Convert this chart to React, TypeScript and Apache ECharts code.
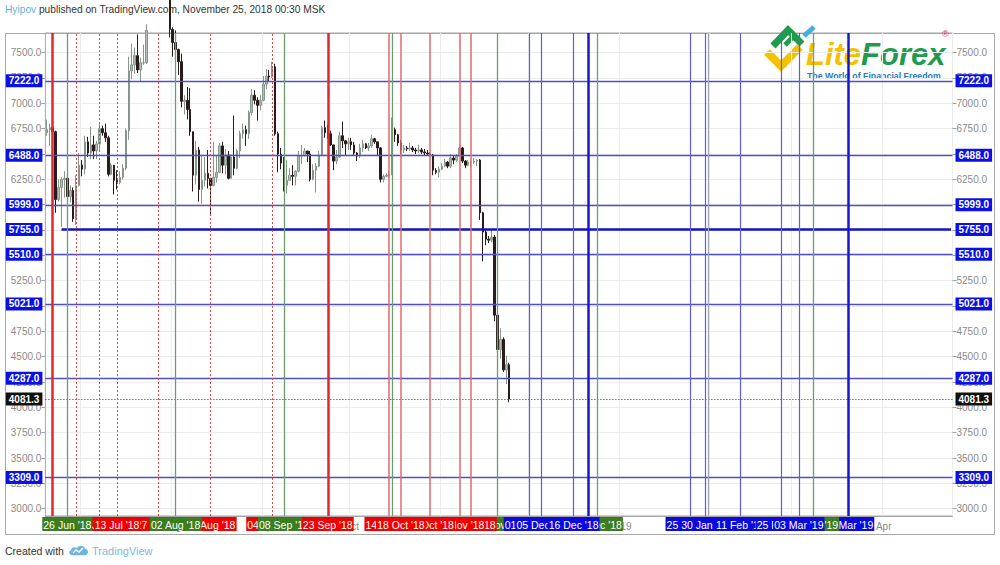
import React, { useEffect, useRef } from "react";
import * as echarts from "echarts";

// ---------- data ----------
const firstDay = [2018, 5, 19]; // 19 Jun 2018 (month index 5)
const dayCount = 310; // categories up to late Apr 2019

// daily candles 19 Jun 2018 .. 24 Nov 2018
const opens = [
  6710, 6740, 6760, 6720, 6050, 6170, 6250, 6260, 6080, 6140, 5860, 6190,
  6390, 6350, 6620, 6510, 6590, 6530, 6600, 6750, 6710, 6660, 6300, 6390, 6240, 6220, 6270, 6360, 6730, 7320, 7380, 7470, 7330, 7400, 7400, 7720, 8400, 8170, 7930, 8180, 8220, 8210, 8170,
  7730, 7600, 7530, 7410, 7020, 7030, 6940, 6720, 6290, 6540, 6150, 6240, 6310, 6260, 6190, 6270, 6320, 6580, 6390, 6490, 6260, 6470, 6360, 6530, 6700, 6740, 6700, 6910, 7080, 7030, 6980,
  7030, 7190, 7270, 7260, 7360, 6700, 6500, 6410, 6190, 6240, 6290, 6280, 6330, 6480, 6480, 6530, 6500, 6250, 6340, 6380, 6490, 6760, 6710, 6700, 6590, 6430, 6470, 6680, 6630, 6600,
  6620, 6590, 6510, 6480, 6560, 6600, 6560, 6580, 6650, 6620, 6560, 6250, 6280, 6290, 6300, 6740, 6690, 6610, 6540, 6560, 6550, 6560, 6540, 6530, 6540, 6520, 6510, 6500, 6490, 6340, 6320,
  6350, 6380, 6420, 6380, 6460, 6440, 6480, 6560, 6430, 6390, 6420, 6420, 6430, 6440, 5920, 5730, 5660, 5650, 5680, 4910, 4570, 4670, 4370, 4420,
];
const closes = [
  6740, 6760, 6720, 6050, 6170, 6250, 6260, 6080, 6140, 5860, 6190, 6390,
  6350, 6620, 6510, 6590, 6530, 6600, 6750, 6710, 6660, 6300, 6390, 6240, 6220, 6270, 6360, 6730, 7320, 7380, 7470, 7330, 7400, 7400, 7720, 8400, 8170, 7930, 8180, 8220, 8210, 8170, 7730,
  7600, 7530, 7410, 7020, 7030, 6940, 6720, 6290, 6540, 6150, 6240, 6310, 6260, 6190, 6270, 6320, 6580, 6390, 6490, 6260, 6470, 6360, 6530, 6700, 6740, 6700, 6910, 7080, 7030, 6980, 7030,
  7190, 7270, 7260, 7360, 6700, 6500, 6410, 6190, 6240, 6290, 6280, 6330, 6480, 6480, 6530, 6500, 6250, 6340, 6380, 6490, 6760, 6710, 6700, 6590, 6430, 6470, 6680, 6630, 6600, 6620,
  6590, 6510, 6480, 6560, 6600, 6560, 6580, 6650, 6620, 6560, 6250, 6280, 6290, 6300, 6740, 6690, 6610, 6540, 6560, 6550, 6560, 6540, 6530, 6540, 6520, 6510, 6500, 6490, 6340, 6320, 6350,
  6380, 6420, 6380, 6460, 6440, 6480, 6560, 6430, 6390, 6420, 6420, 6430, 6440, 5920, 5730, 5660, 5650, 5680, 4910, 4570, 4670, 4370, 4420, 4081.3,
];
const lows = [
  6680, 6580, 6680, 5920, 6030, 5780, 6070, 6060, 6020, 5830, 5800, 6180,
  6280, 6300, 6470, 6450, 6450, 6450, 6520, 6680, 6620, 6280, 6290, 6100, 6150, 6200, 6250, 6340, 6640, 7240, 7290, 7300, 7220, 7380, 7390, 7700, 8060, 7860, 7800, 8080, 8120, 7860, 7650,
  7460, 7460, 7280, 6960, 6890, 6840, 6680, 6130, 6200, 6030, 6010, 6180, 6160, 5890, 6180, 6220, 6310, 6310, 6300, 6250, 6260, 6290, 6350, 6460, 6650, 6580, 6650, 6880, 6990, 6830, 6930,
  7020, 7140, 7210, 7250, 6680, 6320, 6350, 6130, 6110, 6240, 6190, 6190, 6320, 6400, 6480, 6420, 6230, 6240, 6120, 6370, 6480, 6660, 6650, 6580, 6340, 6400, 6460, 6560, 6490, 6540,
  6540, 6490, 6430, 6460, 6520, 6550, 6530, 6560, 6600, 6490, 6220, 6220, 6270, 6270, 6290, 6620, 6580, 6500, 6510, 6530, 6530, 6520, 6500, 6510, 6500, 6490, 6490, 6470, 6290, 6300, 6270,
  6340, 6370, 6360, 6360, 6400, 6420, 6470, 6410, 6360, 6380, 6370, 6400, 6380, 5850, 5440, 5600, 5620, 5630, 4850, 4320, 4480, 4350, 4230, 4050,
];
const highs = [
  6840, 6800, 6790, 6730, 6250, 6270, 6330, 6290, 6190, 6170, 6290, 6510,
  6440, 6680, 6670, 6770, 6680, 6630, 6800, 6780, 6800, 6680, 6410, 6390, 6340, 6330, 6400, 6750, 7460, 7590, 7550, 7680, 7450, 7580, 7780, 8480, 8480, 8300, 8260, 8230, 8280, 8240, 8180,
  7750, 7720, 7540, 7490, 7080, 7160, 7150, 6720, 6630, 6570, 6480, 6470, 6540, 6260, 6620, 6480, 6610, 6620, 6550, 6530, 6500, 6880, 6550, 6730, 6800, 6780, 6930, 7140, 7130, 7060, 7080,
  7270, 7340, 7330, 7410, 7390, 6720, 6560, 6470, 6440, 6360, 6390, 6340, 6530, 6590, 6560, 6530, 6530, 6400, 6410, 6530, 6780, 6830, 6790, 6730, 6590, 6540, 6720, 6820, 6640, 6660,
  6660, 6620, 6520, 6600, 6640, 6610, 6610, 6690, 6660, 6620, 6570, 6300, 6310, 6330, 6860, 6760, 6700, 6640, 6590, 6580, 6610, 6580, 6560, 6590, 6560, 6550, 6540, 6520, 6500, 6360, 6380,
  6410, 6450, 6430, 6500, 6480, 6500, 6600, 6570, 6440, 6440, 6440, 6460, 6450, 6450, 5930, 5750, 5690, 5760, 5700, 4950, 4780, 4690, 4510, 4440,
];

const yTicks = [3000, 3250, 3500, 3750, 4000, 4250, 4500, 4750, 5000, 5250, 5500, 5750, 6000, 6250, 6500, 6750, 7000, 7250, 7500];
const yMin = 2928;
const yMax = 7694;

// horizontal levels
const levelValues = [7222, 6488, 5999, 5510, 5021, 4287, 3309];
const mainLevel = 5755;
const mainLevelStart = "2018-06-24";
const currentPrice = 4081.3;

// vertical lines, in drawing order (later on top)
const vLineDates = [
  "2018-06-21", "2018-10-15", "2018-12-21", "2019-01-31",
  "2018-06-29", "2018-07-07", "2018-07-27", "2018-07-13", "2018-06-26", "2018-08-14", "2018-08-02",
  "2018-09-04", "2018-09-08", "2018-09-23", "2018-10-14", "2018-11-20", "2018-11-11", "2018-11-07",
  "2018-10-28", "2018-10-18", "2018-12-24", "2018-12-01", "2018-12-05", "2018-12-16",
  "2019-01-25", "2019-01-30", "2019-02-11", "2019-02-25", "2019-03-20", "2019-03-08", "2019-03-03",
];
const vLineKinds = [
  "redThick", "green", "blueThick", "gray",
  "redDot", "redDot", "redDot", "redDot", "green", "redDot", "green",
  "redDot", "green", "redThick", "redThin", "green", "redThin", "redThin",
  "redThin", "redThin", "green", "blue", "blue", "blue",
  "blue", "blue", "blue", "blue", "blueThick", "green", "blue",
];
const vLineLabeled = [
  false, false, false, false,
  true, true, true, true, true, true, true,
  true, true, true, true, true, true, true,
  true, true, true, true, true, true,
  true, true, true, true, true, true, true,
];

// ---------- helpers ----------
const MONTHS = ["Jan", "Feb", "Mar", "Apr", "May", "Jun", "Jul", "Aug", "Sep", "Oct", "Nov", "Dec"];

function buildDates(): string[] {
  const out: string[] = [];
  const t0 = Date.UTC(firstDay[0], firstDay[1], firstDay[2]);
  for (let i = 0; i < dayCount; i++) {
    out.push(new Date(t0 + i * 86400000).toISOString().slice(0, 10));
  }
  return out;
}

function dateLabel(d: string): string {
  const [y, m, dd] = d.split("-");
  return `${dd} ${MONTHS[+m - 1]} '${y.slice(2)}`;
}

const KIND_STYLE: Record<string, { color: string; width: number; type: any; box: string }> = {
  redThick: { color: "#e3262b", width: 2.5, type: "solid", box: "#f20000" },
  redDot: { color: "#e04848", width: 1, type: [2, 2], box: "#f20000" },
  redThin: { color: "#e36a6a", width: 1.5, type: "solid", box: "#f20000" },
  green: { color: "#6f9c6f", width: 1.3, type: "solid", box: "#3b7d1f" },
  gray: { color: "#9ea4b4", width: 1.2, type: "solid", box: "#777777" },
  blue: { color: "#5c5ce8", width: 1.2, type: "solid", box: "#0a0ae0" },
  blueThick: { color: "#1717cf", width: 2.5, type: "solid", box: "#0a0ae0" },
};

const FONT = "Liberation Sans, Arial, sans-serif";

echarts.graphic.registerShape(
  "tvCloud",
  echarts.graphic.extendPath(
    "M5 12 C1 12 0 8 3 6.5 C3 3 7 1.5 9.5 3.5 C11 0 17 0 18 4.5 C21 5 22 9 20 11 C19.5 11.7 19 12 18 12 Z",
    {}
  )
);

export default function App() {
  const ref = useRef<HTMLDivElement>(null);

  useEffect(() => {
    document.body.style.margin = "0";
    if (!ref.current) return;
    const chart = echarts.init(ref.current, null, { renderer: "svg" });
    const dates = buildDates();
    const candles = opens.map((o, i) => [o, closes[i], lows[i], highs[i]]);

    const vData = vLineDates.map((d, i) => {
      const st = KIND_STYLE[vLineKinds[i]];
      return {
        xAxis: d,
        lineStyle: { color: st.color, width: st.width, type: st.type },
        label: vLineLabeled[i]
          ? {
              show: true,
              position: "start",
              distance: 1,
              formatter: dateLabel(d),
              color: "#ffffff",
              backgroundColor: st.box,
              padding: [2, 1, 1, 1],
              fontSize: 10.5,
              fontFamily: FONT,
            }
          : { show: false },
      };
    });

    const levelLine = (v: number) => ({
      yAxis: v,
      lineStyle: { color: "#5050c6", width: 1.3, type: "solid" },
      label: { show: false },
    });
    const levelLabel = (v: number, pos: string, bg: string, txt: string) => ({
      yAxis: v,
      lineStyle: { color: "rgba(0,0,0,0)", width: 0 },
      label: {
        show: true,
        position: pos,
        distance: 3,
        formatter: txt,
        color: "#ffffff",
        backgroundColor: bg,
        padding: [2, 3, 1, 3],
        fontSize: 10,
        fontWeight: "bold",
        fontFamily: FONT,
      },
    });

    const hData: any[] = [];
    levelValues.forEach((v) => hData.push(levelLine(v)));
    hData.push([
      {
        coord: [mainLevelStart, mainLevel],
        lineStyle: { color: "#1212c8", width: 2.5, type: "solid" },
        label: { show: false },
      },
      { coord: [dates[dates.length - 1], mainLevel] },
    ]);
    hData.push({
      yAxis: currentPrice,
      lineStyle: { color: "#333333", width: 1, type: [1, 2] },
      label: { show: false },
    });
    [...levelValues, mainLevel].forEach((v) => {
      hData.push(levelLabel(v, "start", "#0a10e6", v.toFixed(1)));
      hData.push(levelLabel(v, "end", "#0a10e6", v.toFixed(1)));
    });
    hData.push(levelLabel(currentPrice, "start", "#111111", currentPrice.toFixed(1)));
    hData.push(levelLabel(currentPrice, "end", "#111111", currentPrice.toFixed(1)));

    const monthStart = (_i: number, v: string) => v.endsWith("-01");

    const yAxisBase = {
      type: "value",
      min: yMin,
      max: yMax,
      axisLine: { show: false },
      axisTick: { show: true, length: 4, customValues: yTicks, lineStyle: { color: "#a0a0a0" } },
      axisLabel: {
        customValues: yTicks,
        formatter: (v: number) => v.toFixed(1),
        color: "#8a8a8a",
        fontSize: 10,
        fontFamily: FONT,
        margin: 4,
      },
    };

    chart.setOption({
      animation: false,
      backgroundColor: "#ffffff",
      grid: {
        left: 45.4,
        right: 47.5,
        top: 33,
        bottom: 49,
        show: true,
        borderColor: "#a6a6a6",
        borderWidth: 1,
        backgroundColor: "rgba(0,0,0,0)",
      },
      xAxis: {
        type: "category",
        data: dates,
        boundaryGap: true,
        axisLine: { show: true, lineStyle: { color: "#a6a6a6" } },
        axisTick: { show: false },
        axisLabel: {
          interval: monthStart,
          formatter: (v: string) => {
            const [y, m] = v.split("-");
            return m === "01" ? y : MONTHS[+m - 1];
          },
          color: "#8a8a8a",
          fontSize: 10,
          fontFamily: FONT,
          margin: 5,
        },
        splitLine: { show: true, interval: monthStart, lineStyle: { color: "#ececec" } },
      },
      yAxis: [
        { ...yAxisBase, position: "left", splitLine: { show: true, lineStyle: { color: "#ececec" } } },
        { ...yAxisBase, position: "right", splitLine: { show: false } },
      ],
      series: [
        {
          type: "candlestick",
          data: candles,
          barWidth: 2,
          clip: true,
          itemStyle: {
            color: "#b3bfb3",
            borderColor: "#86968a",
            color0: "#2a1c1c",
            borderColor0: "#2a1c1c",
            borderWidth: 1,
          },
          markLine: {
            silent: true,
            symbol: ["none", "none"],
            animation: false,
            label: { show: false },
            data: [...hData, ...vData],
          },
        },
      ],
      graphic: [
        {
          type: "rect",
          silent: true,
          z: -10,
          shape: { x: 5.5, y: 33.5, width: 989, height: 501 },
          style: { fill: "none", stroke: "#a8a8a8", lineWidth: 1 },
        },
        {
          type: "text",
          x: 5,
          y: 9,
          style: {
            text: "{a|Hyipov} published on TradingView.com, November 25, 2018 00:30 MSK",
            rich: { a: { fill: "#5fb3d8", fontSize: 10.2, fontFamily: FONT } },
            fill: "#333333",
            fontSize: 10.2,
            fontFamily: FONT,
            verticalAlign: "middle",
          },
        },
        {
          type: "text",
          x: 5,
          y: 551,
          style: {
            text: "Created with",
            fill: "#333333",
            fontSize: 10.5,
            fontFamily: FONT,
            verticalAlign: "middle",
          },
        },
        {
          type: "tvCloud",
          x: 68,
          y: 545,
          scaleX: 0.95,
          scaleY: 0.85,
          style: { fill: "#6fb5db" },
        },
        {
          type: "polyline",
          shape: { points: [[73, 553], [76, 550], [79, 552], [83, 548]] },
          style: { stroke: "#ffffff", lineWidth: 1.5, fill: "none" },
        },
        {
          type: "text",
          x: 92,
          y: 551,
          style: {
            text: "TradingView",
            fill: "#7ab9dc",
            fontSize: 11,
            fontFamily: FONT,
            verticalAlign: "middle",
          },
        },
        // LiteForex logo
        {
          type: "group",
          z: 100,
          children: [
            {
              type: "polyline",
              shape: { points: [[767, 52], [781, 66], [800, 47]] },
              style: { stroke: "#f5c200", lineWidth: 8, fill: "none", lineJoin: "miter" },
            },
            {
              type: "polyline",
              shape: { points: [[773, 46], [788, 30], [802, 44]] },
              style: { stroke: "#1f9b4b", lineWidth: 7, fill: "none", lineJoin: "miter" },
            },
            {
              type: "line",
              shape: { x1: 785, y1: 45, x2: 795, y2: 35 },
              style: { stroke: "#1f9b4b", lineWidth: 5 },
            },
            {
              type: "line",
              shape: { x1: 804, y1: 36, x2: 814, y2: 27 },
              style: { stroke: "#3fb0e0", lineWidth: 5 },
            },
            {
              type: "text",
              x: 806,
              y: 70,
              style: {
                text: "{y|Lite}{g|Forex}",
                rich: {
                  y: { fill: "#f5c000", fontSize: 31, fontWeight: "bold", fontStyle: "italic", fontFamily: FONT },
                  g: { fill: "#1f9b4b", fontSize: 31, fontWeight: "bold", fontStyle: "italic", fontFamily: FONT },
                },
                verticalAlign: "bottom",
              },
            },
            {
              type: "text",
              x: 942,
              y: 34,
              style: { text: "®", fill: "#e03030", fontSize: 9, fontFamily: FONT, verticalAlign: "middle" },
            },
            {
              type: "text",
              x: 807,
              y: 76,
              style: {
                text: "The World of Financial Freedom",
                fill: "#2a78bc",
                fontSize: 8.8,
                fontWeight: "bold",
                fontFamily: FONT,
                verticalAlign: "middle",
              },
            },
          ],
        },
      ],
    });

    return () => chart.dispose();
  }, []);

  return <div ref={ref} style={{ width: 1000, height: 565 }} />;
}
